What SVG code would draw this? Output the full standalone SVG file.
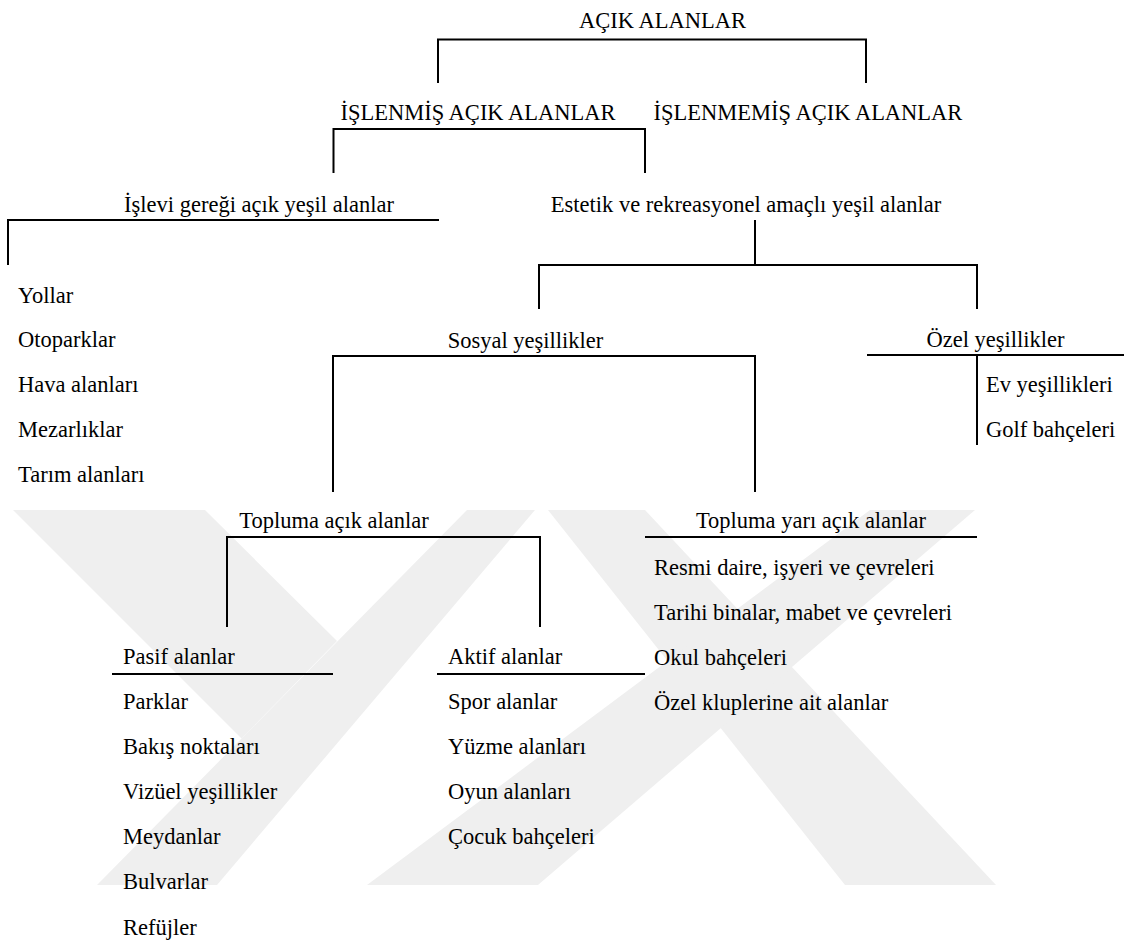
<svg xmlns="http://www.w3.org/2000/svg" width="1124" height="947" viewBox="0 0 1124 947">
<style>
text{font-family:"Liberation Serif","Times New Roman",serif;font-size:22.5px;fill:#000}
.c{text-anchor:middle}
.ln{fill:none;stroke:#000;stroke-width:2}
.wm{fill:#efefef}
</style>
<rect width="1124" height="947" fill="#fff"/>
<g id="watermark">
<polygon class="wm" points="13,510 205,510 337,641 241.5,738.5"/>
<polygon class="wm" points="467,510 535,510 217,885 97,885"/>
<polygon class="wm" points="548,510 645,510 996,885 845,885"/>
<polygon class="wm" points="870,510 975,510 538,885 367,885"/>
</g>
<g id="connectors">
<path class="ln" d="M438,83 V39.5 H866 V83"/>
<path class="ln" d="M333.5,173 V129 H645 V173"/>
<path class="ln" d="M8,265 V220 H439"/>
<path class="ln" d="M755,220 V265"/>
<path class="ln" d="M539,309 V265 H977 V309"/>
<path class="ln" d="M333,492 V356 H755 V492"/>
<path class="ln" d="M867,355 H1124"/>
<path class="ln" d="M977,355 V445"/>
<path class="ln" d="M227,627 V537 H540 V627"/>
<path class="ln" d="M645,537 H977"/>
<path class="ln" d="M112,674 H333"/>
<path class="ln" d="M437,674 H645"/>
</g>
<g id="n-acik-alanlar"><text class="c" x="662.5" y="28">AÇIK ALANLAR</text></g>
<g id="n-islenmis"><text class="c" x="478" y="120">İŞLENMİŞ AÇIK ALANLAR</text></g>
<g id="n-islenmemis"><text class="c" x="808" y="120">İŞLENMEMİŞ AÇIK ALANLAR</text></g>
<g id="n-islevi"><text class="c" x="259" y="212">İşlevi gereği açık yeşil alanlar</text></g>
<g id="n-estetik"><text class="c" x="746" y="212">Estetik ve rekreasyonel amaçlı yeşil alanlar</text></g>
<g id="n-islevi-list">
<text x="18" y="303">Yollar</text>
<text x="18" y="347">Otoparklar</text>
<text x="18" y="392">Hava alanları</text>
<text x="18" y="437">Mezarlıklar</text>
<text x="18" y="482">Tarım alanları</text>
</g>
<g id="n-sosyal"><text class="c" x="525.5" y="348">Sosyal yeşillikler</text></g>
<g id="n-ozel"><text class="c" x="995.5" y="347">Özel yeşillikler</text></g>
<g id="n-ozel-list">
<text x="986" y="392">Ev yeşillikleri</text>
<text x="986" y="437">Golf bahçeleri</text>
</g>
<g id="n-topluma-acik"><text class="c" x="334" y="528">Topluma açık alanlar</text></g>
<g id="n-topluma-yari"><text class="c" x="811" y="528">Topluma yarı açık alanlar</text></g>
<g id="n-topluma-yari-list">
<text x="654" y="575">Resmi daire, işyeri ve çevreleri</text>
<text x="654" y="620">Tarihi binalar, mabet ve çevreleri</text>
<text x="654" y="665">Okul bahçeleri</text>
<text x="654" y="710">Özel kluplerine ait alanlar</text>
</g>
<g id="n-pasif">
<text x="123" y="664">Pasif alanlar</text>
<text x="123" y="709">Parklar</text>
<text x="123" y="754">Bakış noktaları</text>
<text x="123" y="799">Vizüel yeşillikler</text>
<text x="123" y="844">Meydanlar</text>
<text x="123" y="889">Bulvarlar</text>
<text x="123" y="935">Refüjler</text>
</g>
<g id="n-aktif">
<text x="448" y="664">Aktif alanlar</text>
<text x="448" y="709">Spor alanlar</text>
<text x="448" y="754">Yüzme alanları</text>
<text x="448" y="799">Oyun alanları</text>
<text x="448" y="844">Çocuk bahçeleri</text>
</g>
</svg>
